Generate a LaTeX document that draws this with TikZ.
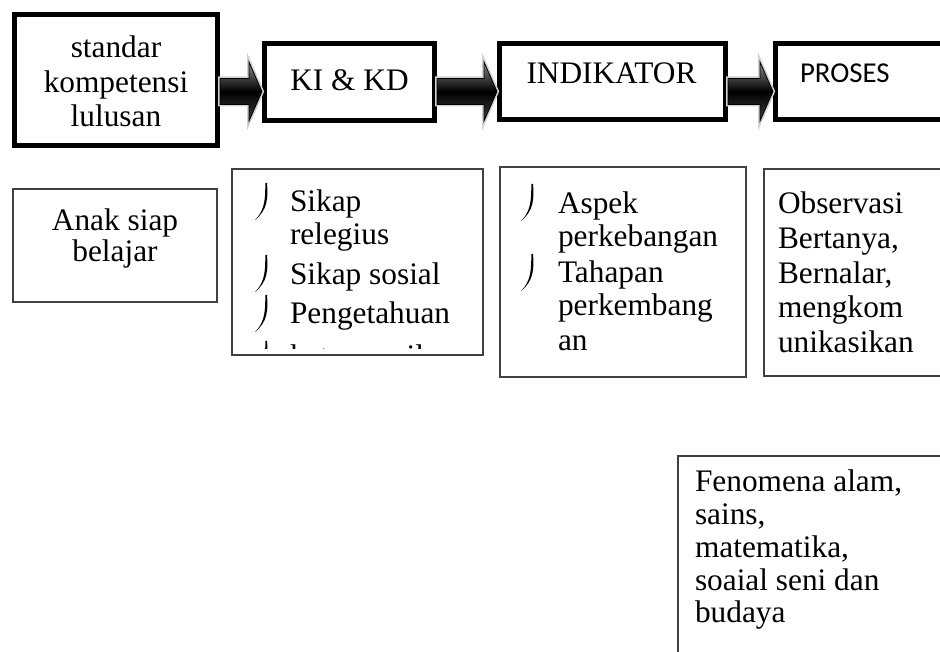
\documentclass[tikz,border=0pt]{standalone}
\usepackage{fontspec}
\setmainfont{Liberation Serif}
\newfontfamily\calibrifont{Carlito}
\usetikzlibrary{calc}
\begin{document}
\begin{tikzpicture}[x=0.75pt,y=-0.75pt,
  thickbox/.style={draw=black, line width=3.75pt, inner sep=0pt},
  thinbox/.style={draw=black!75, line width=0.9pt, inner sep=0pt, outer sep=0pt},
  txt/.style={inner sep=0pt, outer sep=0pt, font=\fontsize{23.5pt}{26pt}\selectfont},
  sanstxt/.style={inner sep=0pt, outer sep=0pt, font=\calibrifont\fontsize{21.6pt}{26pt}\selectfont},
  blockarrow/.style={top color=black!45, bottom color=black!75, middle color=black,
    draw=black, line width=0.6pt, preaction={draw=black!18, line width=3pt}},
  bul/.pic={\fill[black] (0,0) .. controls (1.2,14) and (0.8,27) .. (-12,37)
      .. controls (-1.6,27) and (-1.7,14) .. (-1.7,0) -- cycle;}
]
\clip (0,0) rectangle (940,652);
\fill[white] (0,0) rectangle (940,652);

% top row of thick boxes
\node[thickbox, minimum width=152.25pt, minimum height=97.875pt] (b1) at (116,80.25) {};
\node[thickbox, minimum width=127.5pt, minimum height=57.75pt] (b2) at (349.5,82) {};
\node[thickbox, minimum width=169.5pt, minimum height=57pt] (b3) at (612.5,81.5) {};
\node[thickbox, minimum width=138.375pt, minimum height=57pt] (b4) at (867.75,81.5) {};

\node[txt, anchor=base] (t1a) at (116,58) {standar};
\node[txt, anchor=base] (t1b) at (116,93) {kompetensi};
\node[txt, anchor=base] (t1c) at (116,127) {lulusan};
\node[txt, anchor=base] (t2) at (349.5,91) {KI \& KD};
\node[txt, anchor=base] (t3) at (611.5,84) {INDIKATOR};
\node[sanstxt, anchor=base west] (t4) at (800,83) {PROSES};

% block arrows
\coordinate (ya) at (0,91.5);
\foreach \a/\b in {b1/b2, b2/b3, b3/b4}{
  \coordinate (s) at (\a.east |- ya);
  \coordinate (e) at (\b.west |- ya);
  \path[blockarrow] ($(s)+(0,-13)$) -- ($(e)+(-13,-13)$) -- ($(e)+(-13,-29.5)$) -- (e)
    -- ($(e)+(-13,29.5)$) -- ($(e)+(-13,13)$) -- ($(s)+(0,13)$) -- cycle;
}

% lower thin boxes
\node[thinbox, minimum width=153pt, minimum height=84.75pt] (anak) at (115,245.5) {};
\node[thinbox, minimum width=188.25pt, minimum height=139.5pt] (ki) at (357.5,262) {};
\node[thinbox, minimum width=184.5pt, minimum height=157.5pt] (ind) at (623,272) {};
\node[thinbox, minimum width=147pt, minimum height=155.25pt] (obs) at (862,272.5) {};
\node[thinbox, minimum width=211.5pt, minimum height=168pt] (fen) at (819,568) {};

% Anak siap belajar
\node[txt, anchor=base] (an1) at (115,231) {Anak siap};
\node[txt, anchor=base] (an2) at (115,262) {belajar};

% KI & KD list (last line clipped)
\begin{scope}
  \clip (233,170) rectangle (482,349);
  \foreach \t/\y [count=\i] in {Sikap/212, relegius/245, Sikap sosial/285, Pengetahuan/324, keterampilan/367}
    \node[txt, anchor=base west] (ki\i) at (290,\y) {\t};
  \foreach \y in {183, 255, 295, 341}
    \pic at (267,\y) {bul};
\end{scope}

% INDIKATOR list
\foreach \t/\y [count=\i] in {Aspek/214, perkebangan/247, Tahapan/283, perkembang/316, an/351}
  \node[txt, anchor=base west] (in\i) at (558,\y) {\t};
\foreach \y in {184, 254}
  \pic at (533,\y) {bul};

% Observasi list
\foreach \t/\y [count=\i] in {Observasi/214, {Bertanya,}/249, {Bernalar,}/284, mengkom/318, unikasikan/353}
  \node[txt, anchor=base west] (ob\i) at (778,\y) {\t};

% Fenomena list
\foreach \t/\y [count=\i] in {{Fenomena alam,}/492, {sains,}/525, {matematika,}/557, soaial seni dan/590, budaya/622}
  \node[txt, anchor=base west] (fe\i) at (695,\y) {\t};
\end{tikzpicture}
\end{document}
